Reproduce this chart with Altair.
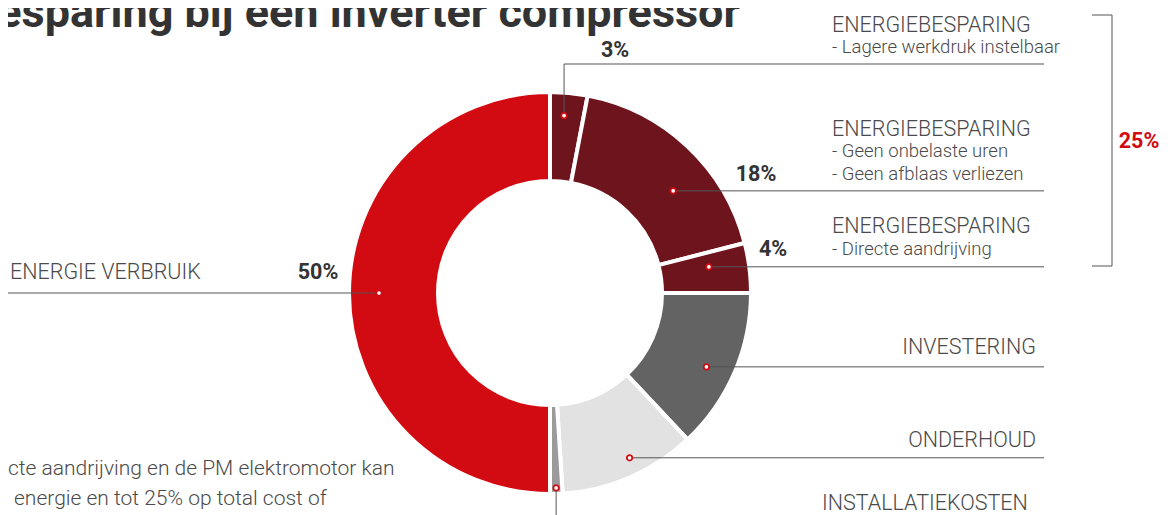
import altair as alt
import pandas as pd
import numpy as np

# ---------------- data ----------------
categories = ["Energiebesparing werkdruk", "Energiebesparing onbelast", "Energiebesparing aandrijving",
              "Investering", "Onderhoud", "Installatiekosten", "Energie verbruik"]
values = [3, 18, 4, 13, 11, 1, 50]
pct_labels = ["3%", "18%", "4%", "", "", "", "50%"]
total_saving_label = "25%"
title_text = "Energiebesparing bij een inverter compressor"
body_lines = ["cte aandrijving en de PM elektromotor kan", "energie en tot 25% op total cost of"]

# ---------------- style / layout ----------------
slice_colors = ["#6E141D", "#6E141D", "#6E141D", "#636363", "#E2E2E2", "#9B9B9B", "#D20A11"]
CX, CY = 550, 293          # donut centre (page px)
R_OUT, R_IN = 201, 112
dot_frac = [0.42, 0.61, 0.35, 0.54, 0.44, 0.5, 0.5]
dot_rad = [178, 160, 161, 173, 183, 195, 171]
LINE_END = 1044
FONT = "Roboto"
RED = "#D20A11"
DARK = "#333333"
GREY = "#4a4a4a"

W, H = 1152, 507
xs = alt.Scale(domain=[8, 8 + W], range=[0, W], nice=False, zero=False)
ys = alt.Scale(domain=[8, 8 + H], range=[0, H], nice=False, zero=False)

slices = pd.DataFrame({"cat": categories, "value": values, "idx": range(len(values))})

vals = np.array(values, dtype=float)
cum = np.cumsum(vals)
start = (cum - vals) / vals.sum() * 2 * np.pi
width = vals / vals.sum() * 2 * np.pi
ang = start + np.array(dot_frac) * width
dx = CX + np.array(dot_rad) * np.sin(ang)
dy = CY - np.array(dot_rad) * np.cos(ang)
dots = pd.DataFrame({"x": dx, "y": dy})

lines = []
lines.append(dict(x=dx[0], x2=dx[0], y=dy[0], y2=64))
lines.append(dict(x=dx[0], x2=LINE_END, y=64, y2=64))
for i in [1, 2, 3, 4]:
    lines.append(dict(x=dx[i], x2=LINE_END, y=dy[i], y2=dy[i]))
lines.append(dict(x=dx[5], x2=dx[5], y=dy[5], y2=530))
lines.append(dict(x=0, x2=dx[6], y=dy[6], y2=dy[6]))
lines.append(dict(x=1112, x2=1112, y=15, y2=266))
lines.append(dict(x=1092, x2=1112, y=15, y2=15))
lines.append(dict(x=1092, x2=1112, y=266, y2=266))
lines_df = pd.DataFrame(lines)

donut = alt.Chart(slices).mark_arc(
    outerRadius=R_OUT, innerRadius=R_IN, stroke="white", strokeWidth=4
).encode(
    theta=alt.Theta("value:Q", stack=True),
    order=alt.Order("idx:Q"),
    color=alt.Color("cat:N", scale=alt.Scale(domain=categories, range=slice_colors), legend=None),
    x=alt.X(datum=CX, type="quantitative", scale=xs, axis=None),
    y=alt.Y(datum=CY, type="quantitative", scale=ys, axis=None),
)

rules = alt.Chart(lines_df).mark_rule(color="#555555", strokeWidth=1).encode(
    x=alt.X("x:Q", scale=xs, axis=None), x2="x2:Q",
    y=alt.Y("y:Q", scale=ys, axis=None), y2="y2:Q",
)

dot_layer = alt.Chart(dots).mark_circle(
    size=30, fill="white", stroke=RED, strokeWidth=1.8, opacity=1
).encode(x=alt.X("x:Q", scale=xs, axis=None), y=alt.Y("y:Q", scale=ys, axis=None))


def text_layer(df, **kw):
    return alt.Chart(df).mark_text(font=FONT, baseline="alphabetic", **kw).encode(
        x=alt.X("x:Q", scale=xs, axis=None), y=alt.Y("y:Q", scale=ys, axis=None), text="t:N"
    )


cat_left = pd.DataFrame({
    "t": ["ENERGIEBESPARING", "ENERGIEBESPARING", "ENERGIEBESPARING", "INSTALLATIEKOSTEN", "ENERGIE VERBRUIK"],
    "x": [832, 832, 832, 822, 10],
    "y": [32, 136, 233, 510, 279],
})
cat_right = pd.DataFrame({"t": ["INVESTERING", "ONDERHOUD"], "x": [1036, 1036], "y": [354, 447]})
sub = pd.DataFrame({
    "t": ["- Lagere werkdruk instelbaar", "- Geen onbelaste uren", "- Geen afblaas verliezen", "- Directe aandrijving"],
    "x": [832, 832, 832, 832],
    "y": [53, 157, 180, 255],
})
pct = pd.DataFrame({"t": [p for p in pct_labels if p],
                    "x": [615, 756, 773, 318], "y": [57, 181, 256, 279]})
tot = pd.DataFrame({"t": [total_saving_label], "x": [1139], "y": [148]})
title = pd.DataFrame({"t": [title_text], "x": [740], "y": [27]})
body = pd.DataFrame({"t": body_lines, "x": [8, 14], "y": [475, 505]})

layers = [
    donut, rules, dot_layer,
    text_layer(cat_left, align="left", fontSize=21.5, fontWeight=300, color=GREY),
    text_layer(cat_right, align="right", fontSize=21.5, fontWeight=300, color=GREY),
    text_layer(sub, align="left", fontSize=18.5, fontWeight=300, color=GREY),
    text_layer(pct, align="center", fontSize=21.5, fontWeight="bold", color=DARK),
    text_layer(tot, align="center", fontSize=21.5, fontWeight="bold", color=RED),
    text_layer(title, align="right", fontSize=45, fontWeight="bold", color=DARK),
    text_layer(body, align="left", fontSize=21, fontWeight=300, color=GREY),
]

chart = alt.layer(*layers).properties(
    width=W, height=H, autosize="none", padding=0, background="white"
).configure_view(stroke=None)

chart.save("out.html", embed_options={"renderer": "svg", "actions": False})
